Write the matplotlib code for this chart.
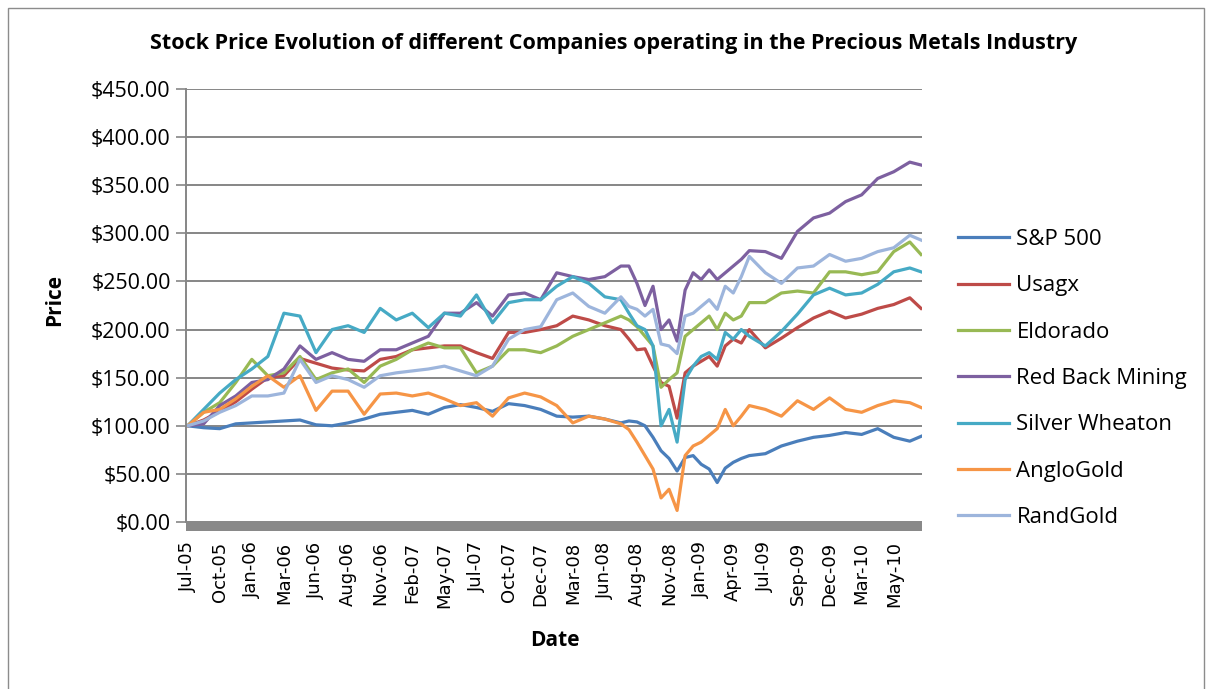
import matplotlib
matplotlib.use("Agg")
import matplotlib.pyplot as plt
from matplotlib.patches import Rectangle

# time axis in units of the label interval (each label ~ 56 trading days apart)
period = [0, 0.5, 1, 1.5, 2, 2.5, 3, 3.5, 4, 4.5, 5, 5.5, 6, 6.5, 7, 7.5, 8, 8.5, 9, 9.5,
          10, 10.5, 11, 11.5, 12, 12.5, 13, 13.5,
          13.75, 14, 14.25, 14.5, 14.75, 15, 15.25, 15.5, 15.75, 16, 16.25, 16.5, 16.75, 17, 17.25, 17.5,
          18, 18.5, 19, 19.5, 20, 20.5, 21, 21.5, 22, 22.5, 22.85]

tick_labels = ["Jul-05", "Oct-05", "Jan-06", "Mar-06", "Jun-06", "Aug-06", "Nov-06", "Feb-07",
               "May-07", "Jul-07", "Oct-07", "Dec-07", "Mar-08", "Jun-08", "Aug-08", "Nov-08",
               "Jan-09", "Apr-09", "Jul-09", "Sep-09", "Dec-09", "Mar-10", "May-10"]

sp500 = [100, 98, 97, 102, 103, 104, 105, 106, 101, 100, 103, 107, 112, 114, 116, 112, 119, 122, 119, 115,
         123, 121, 117, 110, 109, 110, 107, 103,
         105, 104, 100, 88, 74, 66, 53, 67, 69, 60, 55, 41, 56, 62, 66, 69,
         71, 79, 84, 88, 90, 93, 91, 97, 88, 84, 89]

usagx = [100, 106, 115, 125, 138, 150, 152, 170, 165, 160, 158, 157, 169, 172, 179, 181, 183, 183, 176, 170,
         197, 197, 200, 204, 214, 210, 204, 200,
         190, 179, 180, 162, 145, 141, 108, 155, 162, 167, 172, 162, 183, 190, 186, 200,
         181, 191, 202, 212, 219, 212, 216, 222, 226, 233, 222]

eldorado = [100, 114, 124, 145, 169, 152, 155, 172, 148, 155, 159, 145, 162, 169, 179, 186, 181, 181, 155, 162,
            179, 179, 176, 183, 193, 200, 207, 214,
            210, 203, 193, 183, 140, 148, 155, 193, 200, 207, 214, 200, 217, 210, 214, 228,
            228, 238, 240, 238, 260, 260, 257, 260, 281, 291, 278]

red_back = [100, 102, 121, 131, 145, 148, 159, 183, 169, 176, 169, 167, 179, 179, 186, 193, 217, 217, 228, 214,
            236, 238, 231, 259, 255, 252, 255, 266,
            266, 248, 225, 245, 200, 210, 188, 241, 259, 252, 262, 252, 259, 266, 273, 282,
            281, 274, 302, 316, 321, 333, 340, 357, 364, 374, 371]

silver_wheaton = [100, 117, 134, 148, 159, 172, 217, 214, 176, 200, 204, 197, 222, 210, 217, 202, 217, 214, 236, 207,
                  228, 231, 231, 245, 255, 248, 234, 231,
                  217, 204, 200, 183, 100, 117, 83, 148, 162, 172, 176, 169, 197, 190, 200, 193,
                  183, 198, 216, 236, 243, 236, 238, 247, 260, 264, 260]

anglogold = [100, 114, 117, 128, 141, 152, 140, 152, 116, 136, 136, 112, 133, 134, 131, 134, 128, 121, 124, 110,
             129, 134, 130, 121, 103, 110, 107, 102,
             96, 83, 69, 55, 25, 34, 12, 69, 79, 83, 90, 97, 117, 100, 110, 121,
             117, 110, 126, 117, 129, 117, 114, 121, 126, 124, 119]

randgold = [100, 105, 114, 121, 131, 131, 134, 169, 145, 152, 148, 140, 152, 155, 157, 159, 162, 157, 152, 162,
            190, 200, 203, 231, 238, 224, 217, 234,
            224, 221, 214, 221, 185, 183, 175, 214, 217, 224, 231, 221, 245, 238, 255, 276,
            259, 248, 264, 266, 278, 271, 274, 281, 285, 298, 293]

series_names = ["S&P 500", "Usagx", "Eldorado", "Red Back Mining", "Silver Wheaton", "AngloGold", "RandGold"]
series_values = [sp500, usagx, eldorado, red_back, silver_wheaton, anglogold, randgold]
colors = ["#4A7EBB", "#BE4B48", "#98B954", "#7D60A0", "#46AAC5", "#F69546", "#9DB5DC"]

W, H = 1211, 689
fig = plt.figure(figsize=(W / 100, H / 100), dpi=100)
fig.patch.set_facecolor("white")

# outer chart border
fig.add_artist(Rectangle((8 / W, -0.05), (1204 - 8) / W, 1 - 8 / H + 0.05, transform=fig.transFigure,
                         fill=False, edgecolor="#8C8C8C", linewidth=1.0))

left, right, top, bottom = 186, 922, 89, 522
ax = fig.add_axes([left / W, 1 - bottom / H, (right - left) / W, (bottom - top) / H])

for name, vals, c in zip(series_names, series_values, colors):
    ax.plot(period, vals, color=c, linewidth=2.3, label=name, solid_joinstyle="round")

ax.set_ylim(0, 450)
ax.set_xlim(-0.05, 22.88)
ax.set_yticks(range(0, 451, 50))
ax.set_yticklabels([f"${v:.2f}" for v in range(0, 451, 50)], fontsize=15.5, family="Open Sans")
ax.set_xticks(range(len(tick_labels)))
ax.set_xticklabels(tick_labels, rotation=90, fontsize=13, family="DejaVu Sans")
ax.tick_params(axis="x", length=0, pad=14)
ax.tick_params(axis="y", length=7, width=1.2, color="#868686", pad=4)
ax.grid(axis="y", color="#868686", linewidth=1.4)
ax.set_axisbelow(True)
for s in ["top", "right", "bottom"]:
    ax.spines[s].set_visible(False)
ax.spines["left"].set_color("#868686")
ax.spines["left"].set_linewidth(1.4)

# thick grey floor under the plot
ax.add_patch(Rectangle((0, -9 / (bottom - top)), 1, 9 / (bottom - top), transform=ax.transAxes,
                       facecolor="#898989", edgecolor="none", clip_on=False))

fig.text(614 / W, 1 - 44 / H,
         "Stock Price Evolution of different Companies operating in the Precious Metals Industry",
         ha="center", va="center", fontsize=15.5, fontweight="bold", family="Open Sans")
fig.text(55 / W, 1 - 300 / H, "Price", rotation=90, ha="center", va="center",
         fontsize=15, fontweight="bold", family="Open Sans")
fig.text(555 / W, 1 - 641 / H, "Date", ha="center", va="center",
         fontsize=15, fontweight="bold", family="Open Sans")

leg = fig.legend(loc="upper left", bbox_to_anchor=(958 / W, 1 - 229 / H), frameon=False,
                 prop={"family": "Open Sans", "size": 16}, handlelength=2.3, handletextpad=0.33,
                 labelspacing=1.14, borderpad=0, borderaxespad=0)
for line in leg.get_lines():
    line.set_linewidth(2.3)

fig.savefig("out.png", dpi=100)
